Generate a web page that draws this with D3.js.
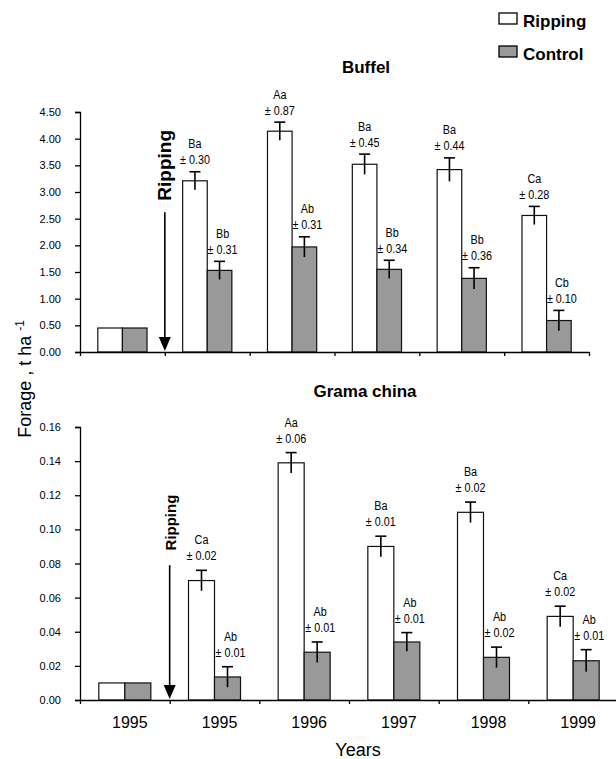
<!DOCTYPE html>
<html lang="en">
<head>
  <meta charset="UTF-8" />
  <title>Forage: Ripping vs Control</title>
  <script src="https://d3js.org/d3.v7.min.js"></script>
  <style>
    body { margin: 0; background: #fff; font-family: "Liberation Sans", Arial, sans-serif; }
    svg { display: block; }
    .lbl { font-size: 13.5px; }
    .tick text { font-size: 11px; fill: #000; }
  </style>
</head>
<body>
<svg width="616" height="759"></svg>
<script>
const years = ["1995", "1995", "1996", "1997", "1998", "1999"];
const series = ["Ripping", "Control"];

// Buffel (t/ha)
const buffelRipping = [0.45, 3.21, 4.14, 3.52, 3.42, 2.56];
const buffelControl = [0.45, 1.53, 1.97, 1.55, 1.38, 0.59];
const buffelRippingErr = [0, 0.17, 0.17, 0.19, 0.22, 0.17];
const buffelControlErr = [0, 0.17, 0.19, 0.17, 0.20, 0.19];
const buffelRippingLetter = ["", "Ba", "Aa", "Ba", "Ba", "Ca"];
const buffelControlLetter = ["", "Bb", "Ab", "Bb", "Bb", "Cb"];
const buffelRippingSD = ["", "0.30", "0.87", "0.45", "0.44", "0.28"];
const buffelControlSD = ["", "0.31", "0.31", "0.34", "0.36", "0.10"];
const buffelTicks = [0, 0.5, 1, 1.5, 2, 2.5, 3, 3.5, 4, 4.5];

// Grama china (t/ha)
const gramaRipping = [0.010, 0.070, 0.139, 0.090, 0.110, 0.049];
const gramaControl = [0.010, 0.0135, 0.028, 0.034, 0.025, 0.023];
const gramaRippingErr = [0, 0.006, 0.006, 0.006, 0.006, 0.006];
const gramaControlErr = [0, 0.006, 0.006, 0.0055, 0.006, 0.0065];
const gramaRippingLetter = ["", "Ca", "Aa", "Ba", "Ba", "Ca"];
const gramaControlLetter = ["", "Ab", "Ab", "Ab", "Ab", "Ab"];
const gramaRippingSD = ["", "0.02", "0.06", "0.01", "0.02", "0.02"];
const gramaControlSD = ["", "0.01", "0.01", "0.01", "0.02", "0.01"];
const gramaTicks = [0, 0.02, 0.04, 0.06, 0.08, 0.10, 0.12, 0.14, 0.16];

const svg = d3.select("svg");
const fills = { Ripping: "#fff", Control: "#999" };

function panel(opt) {
  const g = svg.append("g");
  const x = d3.scaleBand().domain(d3.range(years.length)).range([opt.left, opt.right]);
  const y = d3.scaleLinear().domain([0, opt.max]).range([opt.bottom, opt.top]);
  const bw = x.bandwidth() * 0.29;
  const x1 = d3.scaleBand().domain(series).range([-bw, bw]);

  const rows = years.map((yr, i) => ({
    i,
    vals: [
      { s: "Ripping", v: opt.ripping[i], e: opt.rippingErr[i], l: opt.rippingLetter[i], sd: opt.rippingSD[i] },
      { s: "Control", v: opt.control[i], e: opt.controlErr[i], l: opt.controlLetter[i], sd: opt.controlSD[i] }
    ]
  }));

  // y axis
  g.append("g")
    .attr("transform", `translate(${opt.left},0)`)
    .call(d3.axisLeft(y).tickValues(opt.ticks).tickFormat(d3.format(".2f")).tickSize(5).tickPadding(14))
    .call(a => a.selectAll("line,path").attr("stroke", "#000").attr("stroke-width", 1.3));

  // bars
  const grp = g.selectAll(".grp").data(rows).enter().append("g")
    .attr("transform", d => `translate(${x(d.i) + x.bandwidth() / 2},0)`);

  grp.selectAll("rect").data(d => d.vals).enter().append("rect")
    .attr("x", d => x1(d.s))
    .attr("width", x1.bandwidth())
    .attr("y", d => y(d.v))
    .attr("height", d => y(0) - y(d.v))
    .attr("fill", d => fills[d.s])
    .attr("stroke", "#111")
    .attr("stroke-width", 1.2);

  // error bars
  const eb = grp.selectAll(".eb").data(d => d.vals.filter(v => v.e > 0)).enter().append("g")
    .attr("stroke", "#000").attr("stroke-width", 1.6);
  eb.append("line")
    .attr("x1", d => x1(d.s) + x1.bandwidth() / 2).attr("x2", d => x1(d.s) + x1.bandwidth() / 2)
    .attr("y1", d => y(d.v - d.e)).attr("y2", d => y(d.v + d.e));
  eb.append("line")
    .attr("x1", d => x1(d.s) + x1.bandwidth() / 2 - 5.5).attr("x2", d => x1(d.s) + x1.bandwidth() / 2 + 5.5)
    .attr("y1", d => y(d.v + d.e)).attr("y2", d => y(d.v + d.e));

  // significance labels (narrowed)
  const lab = grp.selectAll(".lab").data(d => d.vals.filter(v => v.l)).enter().append("g")
    .attr("class", "lbl")
    .attr("transform", d => `translate(${x1(d.s) + x1.bandwidth() / 2 + (d.s === "Control" ? 3 : 0)},${y(d.v + d.e)}) scale(0.8,1)`);
  lab.append("text").attr("text-anchor", "middle").attr("y", -opt.lblOff - 16).text(d => d.l);
  lab.append("text").attr("text-anchor", "middle").attr("y", -opt.lblOff).text(d => "\u00b1 " + d.sd);

  // x axis line with ticks at band edges
  const xb = d3.scaleLinear().domain([0, years.length]).range([opt.left, opt.right]);
  g.append("g")
    .attr("transform", `translate(0,${opt.bottom})`)
    .call(d3.axisBottom(xb).tickValues(d3.range(years.length + 1)).tickFormat("").tickSize(4).tickSizeOuter(0))
    .call(a => a.selectAll("line,path").attr("stroke", "#000").attr("stroke-width", 1.3));

  if (opt.showYears) {
    g.append("g").selectAll("text").data(d3.range(years.length)).enter().append("text")
      .attr("x", i => x(i) + x.bandwidth() / 2 + 5)
      .attr("y", opt.bottom + 28)
      .attr("text-anchor", "middle")
      .style("font-size", "16px")
      .text(i => years[i]);
  }

  // title
  g.append("text")
    .attr("x", opt.titleX).attr("y", opt.titleY)
    .attr("text-anchor", "middle")
    .style("font-weight", "bold").style("font-size", "17px")
    .text(opt.title);

  // ripping arrow
  const ax = x(1);
  g.append("line")
    .attr("x1", ax).attr("x2", ax)
    .attr("y1", y(opt.arrowFrom)).attr("y2", y(0) - 14)
    .attr("stroke", "#000").attr("stroke-width", 1.6);
  g.append("path")
    .attr("d", `M${ax - 6},${y(0) - 15} L${ax + 6},${y(0) - 15} L${ax},${y(0) - 1} Z`)
    .attr("fill", "#000");
  g.append("text")
    .attr("transform", `translate(${ax + opt.ripDx},${y(opt.ripAt)}) rotate(-90)`)
    .attr("text-anchor", "middle")
    .style("font-weight", "bold").style("font-size", opt.ripSize + "px")
    .text("Ripping");
}

panel({
  left: 80, right: 589, top: 112, bottom: 352, max: 4.5, ticks: buffelTicks,
  ripping: buffelRipping, control: buffelControl,
  rippingErr: buffelRippingErr, controlErr: buffelControlErr,
  rippingLetter: buffelRippingLetter, controlLetter: buffelControlLetter,
  rippingSD: buffelRippingSD, controlSD: buffelControlSD,
  lblOff: 7.5, showYears: false,
  title: "Buffel", titleX: 366, titleY: 73,
  arrowFrom: 2.62, ripAt: 3.5, ripDx: 6, ripSize: 19
});

panel({
  left: 80, right: 618, top: 427, bottom: 700, max: 0.16, ticks: gramaTicks,
  ripping: gramaRipping, control: gramaControl,
  rippingErr: gramaRippingErr, controlErr: gramaControlErr,
  rippingLetter: gramaRippingLetter, controlLetter: gramaControlLetter,
  rippingSD: gramaRippingSD, controlSD: gramaControlSD,
  lblOff: 10, showYears: true,
  title: "Grama china", titleX: 365, titleY: 397,
  arrowFrom: 0.079, ripAt: 0.104, ripDx: 6, ripSize: 15
});

// axis titles
const yt = svg.append("text")
  .attr("transform", "translate(31,379) rotate(-90)")
  .attr("text-anchor", "middle")
  .style("font-size", "18px");
yt.append("tspan").text("Forage , t ha ");
yt.append("tspan").attr("dy", -7).style("font-size", "12px").text("-1");

svg.append("text")
  .attr("x", 358).attr("y", 756)
  .attr("text-anchor", "middle")
  .style("font-size", "18px")
  .text("Years");

// legend
const leg = svg.append("g").selectAll("g").data(series).enter().append("g")
  .attr("transform", (d, i) => `translate(499,${13 + i * 33})`);
leg.append("rect").attr("width", 18).attr("height", 11)
  .attr("fill", d => fills[d]).attr("stroke", "#000").attr("stroke-width", 1.3);
leg.append("text").attr("x", 24).attr("y", 14)
  .style("font-weight", "bold").style("font-size", "17px")
  .text(d => d);
</script>
</body>
</html>
